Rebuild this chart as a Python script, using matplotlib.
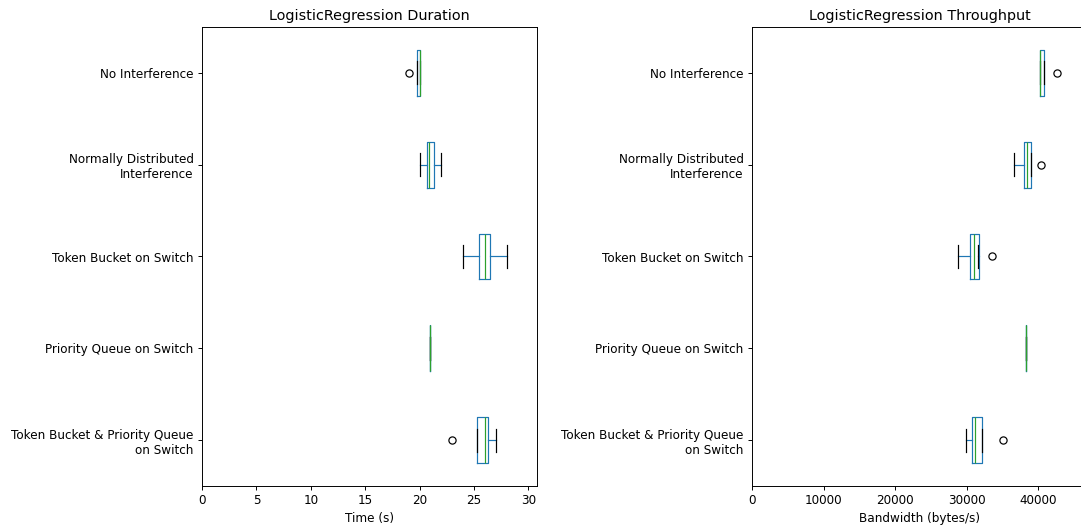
import matplotlib
matplotlib.use("Agg")
import matplotlib.pyplot as plt

# Scenarios, listed bottom-to-top as drawn on the y axis
scenarios = [
    "Token Bucket & Priority Queue\non Switch",
    "Priority Queue on Switch",
    "Token Bucket on Switch",
    "Normally Distributed\nInterference",
    "No Interference",
]

# Duration (s) box statistics per scenario
dur_whislo = [25.25, 21.0, 24.0, 20.0, 19.75]
dur_q1     = [25.25, 21.0, 25.5, 20.7, 19.75]
dur_med    = [26.0, 21.0, 26.0, 20.9, 20.0]
dur_q3     = [26.3, 21.0, 26.5, 21.35, 20.0]
dur_whishi = [27.0, 21.0, 28.0, 22.0, 20.0]
dur_fliers = [[23.0], [], [], [], [19.0]]

# Throughput (bytes/s) box statistics per scenario
thr_whislo = [29960, 38350, 28750, 36620, 40200]
thr_q1     = [30790, 38350, 30460, 37960, 40200]
thr_med    = [31110, 38350, 31070, 38470, 40200]
thr_q3     = [32150, 38350, 31650, 38980, 40850]
thr_whishi = [32150, 38350, 31570, 38980, 40850]
thr_fliers = [[35100], [], [33570], [40320], [42550]]


def make_stats(lo, q1, med, q3, hi, fl):
    return [dict(whislo=a, q1=b, med=c, q3=d, whishi=e, fliers=f)
            for a, b, c, d, e, f in zip(lo, q1, med, q3, hi, fl)]


DPI = 86.4
W, H = 1081, 526
fig = plt.figure(figsize=(W / DPI, H / DPI), dpi=DPI)
ax1 = fig.add_axes([202 / W, 40 / H, 335 / W, 459 / H])
ax2 = fig.add_axes([752 / W, 40 / H, 335 / W, 459 / H])

panels = [
    (ax1, make_stats(dur_whislo, dur_q1, dur_med, dur_q3, dur_whishi, dur_fliers),
     "LogisticRegression Duration", "Time (s)"),
    (ax2, make_stats(thr_whislo, thr_q1, thr_med, thr_q3, thr_whishi, thr_fliers),
     "LogisticRegression Throughput", "Bandwidth (bytes/s)"),
]

for ax, stats, title, xlabel in panels:
    ax.bxp(stats, vert=False, widths=0.5,
           boxprops=dict(color="#1f77b4"),
           whiskerprops=dict(color="#1f77b4"),
           capprops=dict(color="black"),
           medianprops=dict(color="#2ca02c"),
           flierprops=dict(marker="o", markeredgecolor="black",
                           markerfacecolor="none", markersize=6))
    ax.set_yticks(range(1, len(scenarios) + 1))
    ax.set_yticklabels(scenarios)
    ax.set_ylim(0.5, len(scenarios) + 0.5)
    top = max(max([s["whishi"]] + s["fliers"]) for s in stats)
    ax.set_xlim(0, top * 1.1)
    ax.set_title(title, fontsize=12)
    ax.set_xlabel(xlabel)

fig.savefig("out.png", dpi=DPI)
